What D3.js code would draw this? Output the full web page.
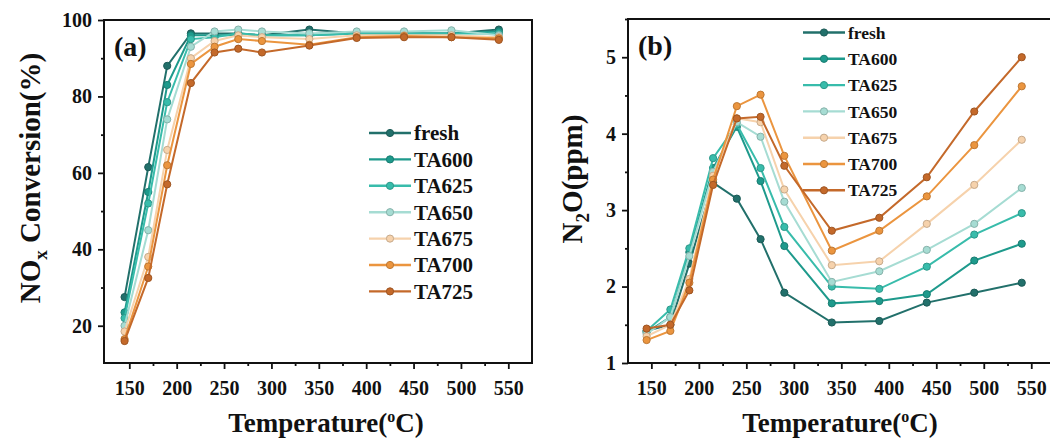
<!DOCTYPE html>
<html>
<head>
<meta charset='utf-8'>
<script src='https://cdn.jsdelivr.net/npm/d3@7'></script>
<style>
  body { margin: 0; background: #fff; }
  svg text { font-family: 'Liberation Serif', 'Times New Roman', serif; font-weight: bold; fill: #111; }
</style>
</head>
<body>
<svg id='chart' width='1050' height='441'></svg>
<script>
// temperatures (x) shared by both panels
var temps = [145, 170, 190, 215, 240, 265, 290, 340, 390, 440, 490, 540];
var sampleNames = ['fresh', 'TA600', 'TA625', 'TA650', 'TA675', 'TA700', 'TA725'];
var sampleColors = ['#22706b', '#1e9a8c', '#38bcab', '#a6dcd3', '#f6d2ac', '#eb953f', '#c4692a'];

// (a) NOx conversion, %
var noxFresh = [27.5, 61.5, 88, 96.5, 96.5, 96.5, 96, 97.5, 96.5, 96.5, 96.5, 97.5];
var noxTA600 = [23.5, 55, 83, 96, 96, 96, 96, 96, 96.5, 96.5, 96.5, 97];
var noxTA625 = [22, 52, 78.5, 95, 95.5, 96.5, 96, 96, 96.5, 96.5, 96.5, 96.5];
var noxTA650 = [20, 45, 74, 93, 97, 97.5, 97, 96.5, 97, 97, 97.3, 96];
var noxTA675 = [18.5, 38, 66, 90, 94.5, 96, 95.5, 95, 96, 96, 96, 95.5];
var noxTA700 = [16.5, 35.5, 62, 88.5, 93, 95, 94.5, 93.5, 95.5, 95.8, 95.5, 95.2];
var noxTA725 = [16, 32.5, 57, 83.5, 91.5, 92.5, 91.5, 93.3, 95.3, 95.5, 95.5, 94.8];

// (b) N2O, ppm
var n2oFresh = [1.42, 1.5, 2.3, 3.36, 3.15, 2.62, 1.92, 1.53, 1.55, 1.79, 1.92, 2.05];
var n2oTA600 = [1.4, 1.6, 2.45, 3.55, 4.09, 3.38, 2.53, 1.78, 1.81, 1.9, 2.34, 2.56];
var n2oTA625 = [1.42, 1.7, 2.5, 3.68, 4.12, 3.55, 2.78, 2.0, 1.97, 2.26, 2.68, 2.96];
var n2oTA650 = [1.38, 1.6, 2.4, 3.5, 4.15, 3.96, 3.11, 2.06, 2.2, 2.48, 2.82, 3.29];
var n2oTA675 = [1.35, 1.5, 2.1, 3.45, 4.2, 4.15, 3.27, 2.28, 2.33, 2.82, 3.33, 3.92];
var n2oTA700 = [1.3, 1.42, 2.05, 3.4, 4.36, 4.51, 3.71, 2.47, 2.73, 3.18, 3.85, 4.62];
var n2oTA725 = [1.45, 1.5, 1.95, 3.33, 4.2, 4.22, 3.58, 2.73, 2.9, 3.43, 4.29, 5.0];

var noxSeries = [noxFresh, noxTA600, noxTA625, noxTA650, noxTA675, noxTA700, noxTA725];
var n2oSeries = [n2oFresh, n2oTA600, n2oTA625, n2oTA650, n2oTA675, n2oTA700, n2oTA725];

var xTicks = [150, 200, 250, 300, 350, 400, 450, 500, 550];
var xMinor = [175, 225, 275, 325, 375, 425, 475, 525];
var noxTicks = [20, 40, 60, 80, 100];
var noxMinor = [30, 50, 70, 90];
var n2oTicks = [1, 2, 3, 4, 5];
var n2oMinor = [1.5, 2.5, 3.5, 4.5, 5.5];

var svg = d3.select('#chart');

function panel(opt) {
  var x = d3.scaleLinear().domain(opt.xDomain).range([opt.left, opt.right]);
  var y = d3.scaleLinear().domain(opt.yDomain).range([opt.bottom, opt.top]);
  var g = svg.append('g');

  // minor ticks
  g.append('g').attr('transform', 'translate(0,' + opt.bottom + ')')
    .call(d3.axisBottom(x).tickValues(xMinor).tickSize(3).tickSizeOuter(0).tickFormat(''));
  g.append('g').attr('transform', 'translate(' + opt.left + ',0)')
    .call(d3.axisLeft(y).tickValues(opt.yMinor.filter(function(v) { return v <= opt.yDomain[1]; }))
      .tickSize(3).tickSizeOuter(0).tickFormat(''));
  // major ticks
  var xa = g.append('g').attr('transform', 'translate(0,' + opt.bottom + ')')
    .call(d3.axisBottom(x).tickValues(xTicks).tickSize(6).tickSizeOuter(0).tickPadding(8)
      .tickFormat(d3.format('d')));
  var ya = g.append('g').attr('transform', 'translate(' + opt.left + ',0)')
    .call(d3.axisLeft(y).tickValues(opt.yTicks).tickSize(6).tickSizeOuter(0).tickPadding(6)
      .tickFormat(d3.format('d')));
  g.selectAll('.domain').remove();
  g.selectAll('.tick line').attr('stroke', '#111').attr('stroke-width', 1.8);
  xa.selectAll('text').style('font-size', '20px').attr('dy', '0.9em');
  ya.selectAll('text').style('font-size', '20px');

  // frame
  g.append('rect')
    .attr('x', opt.left).attr('y', opt.top)
    .attr('width', opt.right - opt.left).attr('height', opt.bottom - opt.top)
    .attr('fill', 'none').attr('stroke', '#111').attr('stroke-width', 2);

  var line = d3.line().x(function(d, i) { return x(temps[i]); }).y(function(d) { return y(d); });
  opt.series.forEach(function(s, k) {
    var c = sampleColors[k];
    g.append('path').datum(s).attr('d', line)
      .attr('fill', 'none').attr('stroke', c).attr('stroke-width', 2);
    g.selectAll(null).data(s).enter().append('circle')
      .attr('cx', function(d, i) { return x(temps[i]); })
      .attr('cy', function(d) { return y(d); })
      .attr('r', 3.6)
      .attr('fill', c).attr('stroke', d3.color(c).darker(0.6)).attr('stroke-width', 1);
  });

  // legend
  var lg = g.append('g');
  sampleNames.forEach(function(name, k) {
    var ly = opt.legY + k * opt.legStep;
    var c = sampleColors[k];
    lg.append('line').attr('x1', opt.legX).attr('x2', opt.legX + 42)
      .attr('y1', ly).attr('y2', ly).attr('stroke', c).attr('stroke-width', 2.4);
    lg.append('circle').attr('cx', opt.legX + 21).attr('cy', ly).attr('r', 3.6)
      .attr('fill', c).attr('stroke', d3.color(c).darker(0.6)).attr('stroke-width', 1);
    lg.append('text').attr('x', opt.legX + 45).attr('y', ly).attr('dy', '0.35em')
      .style('font-size', opt.legFont + 'px').text(name);
  });

  // panel label
  g.append('text').attr('x', opt.left + 10).attr('y', opt.top + 36)
    .style('font-size', '28px').text(opt.label);

  // x title
  var xt = g.append('text').attr('x', opt.xTitleX).attr('y', 432)
    .attr('text-anchor', 'middle').style('font-size', '27px');
  xt.append('tspan').text('Temperature(');
  xt.append('tspan').attr('dy', -10).style('font-size', '16px').text('o');
  xt.append('tspan').attr('dy', 10).text('C)');
  return g;
}

var ga = panel({
  xDomain: [123.3, 575], yDomain: [10.25, 100],
  left: 104, right: 532, top: 20, bottom: 363,
  yTicks: noxTicks, yMinor: noxMinor, series: noxSeries,
  legX: 369, legY: 133, legStep: 26.4, legFont: 21,
  label: '(a)', xTitleX: 326
});
var yta = ga.append('text').attr('transform', 'translate(40,178) rotate(-90)')
  .attr('text-anchor', 'middle').style('font-size', '29px');
yta.append('tspan').text('NO');
yta.append('tspan').attr('dy', 7).style('font-size', '19px').text('x');
yta.append('tspan').attr('dy', -7).text(' Conversion(%)');

var gb = panel({
  xDomain: [125.4, 575], yDomain: [1, 5.5],
  left: 628, right: 1055, top: 19, bottom: 363,
  yTicks: n2oTicks, yMinor: n2oMinor, series: n2oSeries,
  legX: 803, legY: 32.5, legStep: 26.3, legFont: 17.5,
  label: '(b)', xTitleX: 840
});
var ytb = gb.append('text').attr('transform', 'translate(582,179) rotate(-90)')
  .attr('text-anchor', 'middle').style('font-size', '29px');
ytb.append('tspan').text('N');
ytb.append('tspan').attr('dy', 7).style('font-size', '19px').text('2');
ytb.append('tspan').attr('dy', -7).text('O(ppm)');
</script>
</body>
</html>
